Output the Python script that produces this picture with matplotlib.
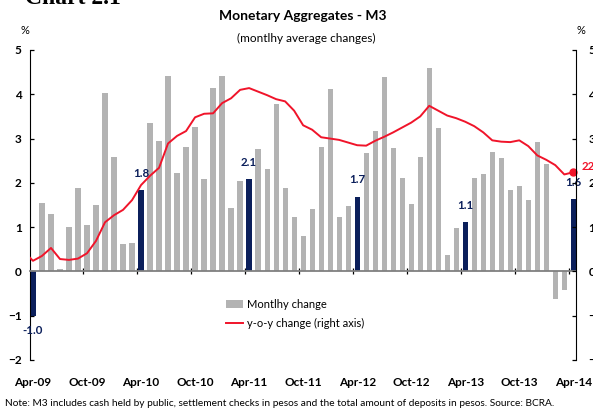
import numpy as np
import pandas as pd
import matplotlib
matplotlib.use("Agg")
import matplotlib.pyplot as plt
from matplotlib.patches import Patch
from matplotlib.lines import Line2D

plt.rcParams["font.family"] = ["Lato", "DejaVu Sans"]

GREY = "#B3B3B3"
NAVY = "#0B1F5B"
RED = "#F0142A"

# monthly categories Apr-09 .. Apr-14
months = pd.date_range("2009-04-01", "2014-04-01", freq="MS")
tick_labels = ["Apr-09", "Oct-09", "Apr-10", "Oct-10", "Apr-11", "Oct-11",
               "Apr-12", "Oct-12", "Apr-13", "Oct-13", "Apr-14"]

# monthly change of M3 (%), left axis
monthly_change = [
    -1.00, 1.55, 1.30, 0.06, 1.01, 1.89, 1.04, 1.51, 4.04, 2.59, 0.63,
    0.65, 1.84, 3.36, 2.94, 4.42, 2.23, 2.82, 3.27, 2.09, 4.14,
    4.41, 1.44, 2.05, 2.09, 2.77, 2.31, 3.77, 1.88, 1.22, 0.79,
    1.42, 2.82, 4.13, 1.22, 1.48, 1.69, 2.68, 3.16, 4.38, 2.79,
    2.10, 1.53, 2.59, 4.59, 3.25, 0.38, 0.99, 1.12, 2.12, 2.21,
    2.69, 2.57, 1.85, 1.94, 1.62, 2.92, 2.42, -0.63, -0.43, 1.63,
]

# year-on-year change (%), right axis, from Mar-09
yoy_change = [
    4.5, 2.4, 3.5, 5.3, 2.8, 2.6, 2.9, 4.1, 6.9, 11.1, 12.7, 13.9,
    16.1, 19.5, 21.6, 23.4, 28.9, 30.6, 31.7, 34.8, 35.6, 35.7,
    38.0, 39.1, 41.0, 41.4, 40.6, 39.8, 38.9, 38.4, 36.3, 33.0,
    32.0, 30.3, 30.0, 29.7, 29.1, 28.5, 28.4, 29.5, 30.4, 31.4,
    32.5, 33.6, 35.0, 37.4, 36.3, 35.2, 34.6, 33.8, 32.8, 31.4,
    29.6, 29.3, 29.2, 29.6, 28.3, 26.2, 25.2, 24.0, 21.9, 22.4,
]

x = np.arange(len(monthly_change))
x_yoy = np.arange(-1, len(monthly_change))
is_april = months.month == 4
colors = [NAVY if a else GREY for a in is_april]

fig = plt.figure(figsize=(5.93, 4.13), dpi=100)
ax = fig.add_axes([30 / 593, 1 - 360 / 413, 546 / 593, 310 / 413])

ax.bar(x, monthly_change, width=0.58, color=colors, zorder=2)
ax.set_xlim(-0.33, 60.3)
ax.set_ylim(-2, 5)
ax.set_yticks(range(-2, 6))

# zero line carries the category boundary ticks
ax.spines["bottom"].set_position(("data", 0))
ax.spines["bottom"].set_color("#808080")
ax.spines["bottom"].set_linewidth(1.3)
ax.spines["top"].set_visible(False)
ax.spines["right"].set_visible(False)
ax.set_xticks(np.arange(5.5, 60, 6))
ax.tick_params(axis="x", direction="inout", length=4, width=0.9,
               labelbottom=False, color="black")
ax.tick_params(axis="y", direction="in", length=3, width=0.9, pad=6,
               labelsize=8.5)
for lab in ax.get_yticklabels():
    lab.set_fontweight("bold")

sec = ax.secondary_xaxis(0)
sec.set_xticks(x[is_april | (months.month == 10)], tick_labels)
sec.spines["bottom"].set_visible(False)
sec.tick_params(length=0, pad=12, labelsize=8.5)
for lab in sec.get_xticklabels():
    lab.set_fontweight("bold")

for i in x[is_april]:
    v = monthly_change[i]
    if v >= 0:
        ax.annotate(f"{v:.1f}", (i, v), xytext=(0, 8), textcoords="offset points",
                    ha="center", va="bottom", color=NAVY, fontsize=8.3,
                    fontweight="bold")
    else:
        ax.annotate(f"{v:.1f}", (i, v), xytext=(0, -7), textcoords="offset points",
                    ha="center", va="top", color=NAVY, fontsize=8.3,
                    fontweight="bold")

ax2 = ax.twinx()
ax2.plot(x_yoy, yoy_change, color=RED, lw=1.4, zorder=3)
ax2.plot(x_yoy[-1], yoy_change[-1], "o", ms=5, color=RED, clip_on=False)
ax2.annotate(f"{yoy_change[-1]:.0f}", (x_yoy[-1], yoy_change[-1]),
             xytext=(6, 4), textcoords="offset points", ha="left", va="center",
             color=RED, fontsize=8.3, fontweight="bold", annotation_clip=False)
ax2.set_ylim(-20, 50)
ax2.set_yticks(range(-20, 51, 10))
for s in ["top", "bottom", "left"]:
    ax2.spines[s].set_visible(False)
ax2.tick_params(axis="y", direction="in", length=3, width=0.9, pad=9,
                labelsize=8.5)
for lab in ax2.get_yticklabels():
    lab.set_fontweight("bold")

handles = [Patch(facecolor=GREY, edgecolor="none"), Line2D([], [], color=RED, lw=1.4)]
fig.legend(handles, ["Montlhy change", "y-o-y change (right axis)"],
           loc="upper left", bbox_to_anchor=(226 / 593, 1 - 299 / 413),
           frameon=False, fontsize=8, handlelength=1.5, handleheight=0.7,
           handletextpad=0.35, labelspacing=0.75, borderpad=0, borderaxespad=0)

fig.text(25 / 593, 1 - 4 / 413, "Chart 2.1", family="Liberation Serif",
         fontweight="bold", fontsize=17, va="baseline")
fig.text(303 / 593, 1 - 16 / 413, "Monetary Aggregates - M3", ha="center",
         va="center", fontsize=10, fontweight="bold")
fig.text(306 / 593, 1 - 38 / 413, "(montlhy average changes)", ha="center",
         va="center", fontsize=8.5)
fig.text(25 / 593, 1 - 30 / 413, "%", ha="center", va="center", fontsize=8)
fig.text(581 / 593, 1 - 30 / 413, "%", ha="center", va="center", fontsize=8)
fig.text(5 / 593, 1 - 404 / 413,
         "Note: M3 includes cash held by public, settlement checks in pesos and the "
         "total amount of deposits in pesos. Source: BCRA.",
         ha="left", va="center", fontsize=7.3)

fig.savefig("out.png", dpi=100)
